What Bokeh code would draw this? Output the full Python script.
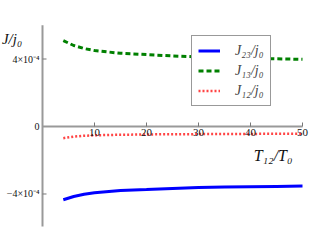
from bokeh.plotting import figure
from bokeh.models import Range1d, Legend, LegendItem, Label
from bokeh.core.properties import value
from bokeh.embed import file_html
from bokeh.resources import INLINE
import math

# data (units of 1e-4)
x = [4, 6, 8, 10, 15, 20, 25, 30, 35, 40, 45, 50]
j13 = [5.09, 4.80, 4.62, 4.50, 4.34, 4.26, 4.18, 4.12, 4.07, 4.04, 4.01, 3.98]
j23 = [-4.34, -4.15, -4.02, -3.93, -3.80, -3.74, -3.67, -3.62, -3.59, -3.57, -3.55, -3.53]
j12 = [-0.69, -0.60, -0.55, -0.52, -0.49, -0.47, -0.46, -0.45, -0.44, -0.44, -0.43, -0.43]
scale = 1e-4

x_ticks = [10, 20, 30, 40, 50]
x_tick_labels = ["10", "20", "30", "40", "50"]
y_ticks = [-4e-4, 0, 4e-4]
y_tick_labels = ["\u22124\u00d710\u207b\u2074", "0", "4\u00d710\u207b\u2074"]

SERIF = "Liberation Serif"
AX = "#999999"

p = figure(width=320, height=236, x_range=Range1d(-8.077, 53.46),
           y_range=Range1d(-6.519e-4, 7.467e-4), output_backend="svg",
           toolbar_location=None, x_axis_location=None, y_axis_location=None,
           min_border=0, outline_line_color=None)
p.grid.visible = False

# axes drawn at origin
p.segment(x0=[0], y0=[0], x1=[50], y1=[0], line_color=AX, line_width=2)
p.segment(x0=[0], y0=[-5.93e-4], x1=[0], y1=[6.0e-4], line_color=AX, line_width=2)
p.ray(x=x_ticks, y=[0]*len(x_ticks), length=4, length_units="screen",
      angle=math.pi/2, line_color="#777777", line_width=1)
p.ray(x=[0, 0], y=[-4e-4, 4e-4], length=4, length_units="screen",
      angle=0, line_color="#777777", line_width=1)

r23 = p.line(x, [v*scale for v in j23], line_color="#0000ff", line_width=3)
r13 = p.line(x, [v*scale for v in j13], line_color="#008000", line_width=3, line_dash="5 3")
r12 = p.line(x, [v*scale for v in j12], line_color="#ff3030", line_alpha=0.9,
             line_width=2.5, line_dash="2 2")

# tick labels
p.text(x=x_ticks, y=[0]*len(x_ticks), text=x_tick_labels, text_font=value(SERIF),
       text_font_size="11px", text_align="center", text_baseline="top",
       y_offset=3, text_color="#111111")
p.text(x=[0]*3, y=y_ticks, text=y_tick_labels, text_font=value(SERIF),
       text_font_size="10px", text_align="right", text_baseline="middle",
       x_offset=-3, text_color="#111111")

p.add_layout(Label(x=-7.8, y=5.16e-4, text="J/j\u2080", text_font=SERIF,
                   text_font_style="italic", text_font_size="15px",
                   text_baseline="middle", text_align="left", text_color="#111111"))
p.add_layout(Label(x=40.6, y=-1.72e-4, text="T\u2081\u2082/T\u2080", text_font=SERIF,
                   text_font_style="italic", text_font_size="16px",
                   text_baseline="middle", text_align="left", text_color="#111111"))

legend = Legend(items=[LegendItem(label="J\u2082\u2083/j\u2080", renderers=[r23]),
                       LegendItem(label="J\u2081\u2083/j\u2080", renderers=[r13]),
                       LegendItem(label="J\u2081\u2082/j\u2080", renderers=[r12])],
                location=(191, 130), margin=0, padding=6, spacing=3,
                glyph_width=22, glyph_height=17, label_height=17, label_standoff=15,
                label_text_font=SERIF, label_text_font_style="italic",
                label_text_font_size="14px", border_line_color="#333333",
                border_line_width=1, background_fill_alpha=1.0)
p.add_layout(legend)

open("out.html", "w").write(file_html(p, INLINE))
